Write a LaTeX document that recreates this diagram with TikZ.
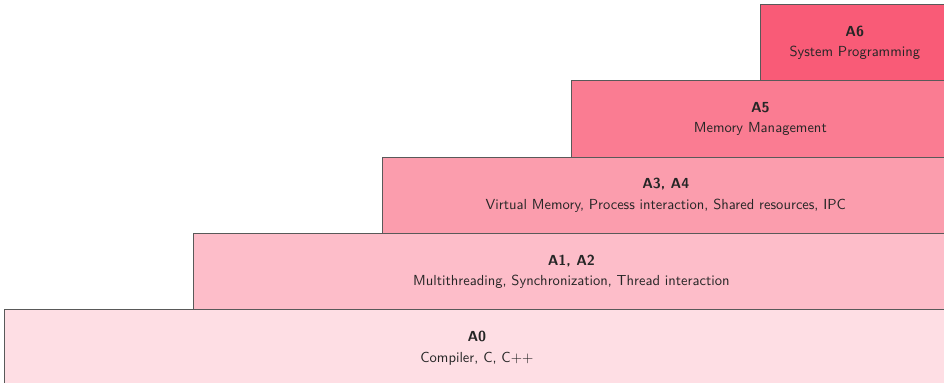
\documentclass[tikz,border=0pt]{standalone}
\usepackage{tikz}

\definecolor{stair}{RGB}{249,91,119}

\begin{document}
\begin{tikzpicture}[font=\sffamily\fontsize{10.95}{13.6}\selectfont,
  tier/.style={draw=black!65, line width=0.6pt, rectangle, align=center,
               minimum height=2.02cm, inner sep=0pt, anchor=south east,
               text=black!85}]

\useasboundingbox (-0.13,0.12) rectangle (24.85,10.23);

% =====================================================================
% Staircase of tiers, right-aligned at x=25, each 2.02cm high
% Widths shrink by 5cm per step, shade deepens going up
% =====================================================================

% A0   width=25   y=0..2.02
\node[tier, minimum width=25cm, fill=stair!20] (a0) at (25,0)
  {\textbf{A0}\\[2pt]Compiler, C, C++};

% A1, A2   width=20   y=2.02..4.04
\node[tier, minimum width=20cm, fill=stair!40] (a12) at (25,2.02)
  {\textbf{A1, A2}\\[2pt]Multithreading, Synchronization, Thread interaction};

% A3, A4   width=15   y=4.04..6.06
\node[tier, minimum width=15cm, fill=stair!60] (a34) at (25,4.04)
  {\textbf{A3, A4}\\[2pt]Virtual Memory, Process interaction, Shared resources, IPC};

% A5   width=10   y=6.06..8.08
\node[tier, minimum width=10cm, fill=stair!80] (a5) at (25,6.06)
  {\textbf{A5}\\[2pt]Memory Management};

% A6   width=5   y=8.08..10.10
\node[tier, minimum width=5cm, fill=stair] (a6) at (25,8.08)
  {\textbf{A6}\\[2pt]System Programming};

\end{tikzpicture}
\end{document}
